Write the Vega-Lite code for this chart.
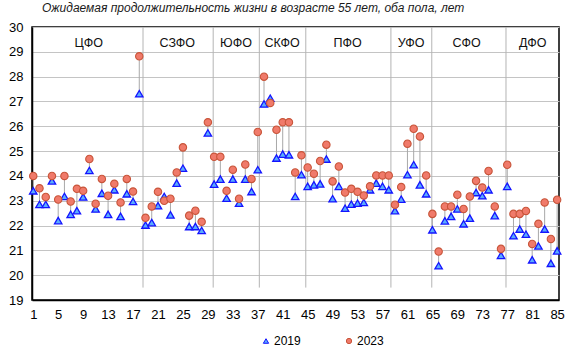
{
  "$schema": "https://vega.github.io/schema/vega-lite/v6.json",
  "width": 527,
  "height": 273,
  "autosize": {"type": "none"},
  "padding": {"left": 32, "top": 27, "right": 16, "bottom": 57},
  "background": "white",
  "title": {
    "text": "Ожидаемая продолжительность жизни в возрасте 55 лет, оба пола, лет",
    "anchor": "start",
    "frame": "group",
    "dx": 10,
    "offset": 6,
    "fontSize": 12,
    "fontStyle": "italic",
    "fontWeight": "normal",
    "font": "Liberation Sans",
    "color": "#1a1a1a"
  },
  "config": {
    "font": "Liberation Sans",
    "view": {"stroke": "#000000", "strokeWidth": 1.5},
    "axis": {"labelColor": "#000000", "labelFont": "Liberation Sans", "labelOverlap": false, "domainColor": "#000000", "domainWidth": 1.5, "gridColor": "#c4c4c4", "ticks": false, "tickCount": 100},
    "legend": {
      "orient": "none",
      "legendX": 228,
      "legendY": 308,
      "direction": "horizontal",
      "title": null,
      "symbolSize": 28,
      "symbolStrokeWidth": 1,
      "labelFontSize": 12,
      "labelColor": "#000000",
      "labelOffset": 2,
      "columnPadding": 42
    }
  },
  "datasets": {
    "regions": [
      {"i": 1, "v2019": 23.4, "v2023": 24.0},
      {"i": 2, "v2019": 22.85, "v2023": 23.5},
      {"i": 3, "v2019": 22.85, "v2023": 23.15},
      {"i": 4, "v2019": 23.8, "v2023": 24.0},
      {"i": 5, "v2019": 22.2, "v2023": 23.05},
      {"i": 6, "v2019": 23.17, "v2023": 24.0},
      {"i": 7, "v2019": 22.45, "v2023": 22.97},
      {"i": 8, "v2019": 22.6, "v2023": 23.48},
      {"i": 9, "v2019": 23.15, "v2023": 23.4},
      {"i": 10, "v2019": 24.22, "v2023": 24.68},
      {"i": 11, "v2019": 22.67, "v2023": 22.88},
      {"i": 12, "v2019": 23.3, "v2023": 23.88},
      {"i": 13, "v2019": 22.45, "v2023": 23.2},
      {"i": 14, "v2019": 23.44, "v2023": 23.68},
      {"i": 15, "v2019": 22.37, "v2023": 22.93},
      {"i": 16, "v2019": 23.28, "v2023": 23.88},
      {"i": 17, "v2019": 22.97, "v2023": 23.37},
      {"i": 18, "v2019": 27.31, "v2023": 28.82},
      {"i": 19, "v2019": 22.02, "v2023": 22.31},
      {"i": 20, "v2019": 22.12, "v2023": 22.77},
      {"i": 21, "v2019": 22.8, "v2023": 23.36},
      {"i": 22, "v2019": 23.17, "v2023": 23.0},
      {"i": 23, "v2019": 22.43, "v2023": 23.08},
      {"i": 24, "v2019": 23.71, "v2023": 24.14},
      {"i": 25, "v2019": 24.31, "v2023": 25.15},
      {"i": 26, "v2019": 21.96, "v2023": 22.4},
      {"i": 27, "v2019": 21.96, "v2023": 22.6},
      {"i": 28, "v2019": 21.8, "v2023": 22.15},
      {"i": 29, "v2019": 25.73, "v2023": 26.16},
      {"i": 30, "v2019": 23.67, "v2023": 24.77},
      {"i": 31, "v2019": 23.87, "v2023": 24.77},
      {"i": 32, "v2019": 23.1, "v2023": 23.4},
      {"i": 33, "v2019": 23.87, "v2023": 24.25},
      {"i": 34, "v2019": 22.9, "v2023": 23.08},
      {"i": 35, "v2019": 23.87, "v2023": 24.46},
      {"i": 36, "v2019": 23.37, "v2023": 23.88},
      {"i": 37, "v2019": 24.25, "v2023": 25.77},
      {"i": 38, "v2019": 26.9, "v2023": 28.0},
      {"i": 39, "v2019": 27.13, "v2023": 26.94},
      {"i": 40, "v2019": 24.72, "v2023": 25.86},
      {"i": 41, "v2019": 24.88, "v2023": 26.16},
      {"i": 42, "v2019": 24.85, "v2023": 26.16},
      {"i": 43, "v2019": 23.17, "v2023": 24.14},
      {"i": 44, "v2019": 24.05, "v2023": 24.83},
      {"i": 45, "v2019": 23.58, "v2023": 24.34},
      {"i": 46, "v2019": 23.64, "v2023": 24.09},
      {"i": 47, "v2019": 23.68, "v2023": 24.6},
      {"i": 48, "v2019": 24.68, "v2023": 25.26},
      {"i": 49, "v2019": 23.08, "v2023": 23.78},
      {"i": 50, "v2019": 23.58, "v2023": 24.38},
      {"i": 51, "v2019": 22.7, "v2023": 23.33},
      {"i": 52, "v2019": 22.86, "v2023": 23.48},
      {"i": 53, "v2019": 22.9, "v2023": 23.36},
      {"i": 54, "v2019": 22.93, "v2023": 23.21},
      {"i": 55, "v2019": 23.44, "v2023": 23.58},
      {"i": 56, "v2019": 23.71, "v2023": 24.02},
      {"i": 57, "v2019": 23.58, "v2023": 24.02},
      {"i": 58, "v2019": 23.44, "v2023": 24.02},
      {"i": 59, "v2019": 22.6, "v2023": 22.84},
      {"i": 60, "v2019": 23.06, "v2023": 23.55},
      {"i": 61, "v2019": 24.05, "v2023": 25.3},
      {"i": 62, "v2019": 24.45, "v2023": 25.9},
      {"i": 63, "v2019": 23.64, "v2023": 25.59},
      {"i": 64, "v2019": 23.28, "v2023": 24.02},
      {"i": 65, "v2019": 21.83, "v2023": 22.47},
      {"i": 66, "v2019": 20.38, "v2023": 20.95},
      {"i": 67, "v2019": 22.19, "v2023": 22.77},
      {"i": 68, "v2019": 22.37, "v2023": 22.77},
      {"i": 69, "v2019": 22.67, "v2023": 23.24},
      {"i": 70, "v2019": 22.07, "v2023": 22.67},
      {"i": 71, "v2019": 22.3, "v2023": 23.17},
      {"i": 72, "v2019": 23.33, "v2023": 23.8},
      {"i": 73, "v2019": 23.2, "v2023": 23.53},
      {"i": 74, "v2019": 23.44, "v2023": 24.2},
      {"i": 75, "v2019": 22.4, "v2023": 22.77},
      {"i": 76, "v2019": 20.8, "v2023": 21.06},
      {"i": 77, "v2019": 23.58, "v2023": 24.45},
      {"i": 78, "v2019": 21.59, "v2023": 22.47},
      {"i": 79, "v2019": 21.86, "v2023": 22.47},
      {"i": 80, "v2019": 21.65, "v2023": 22.59},
      {"i": 81, "v2019": 20.62, "v2023": 21.26},
      {"i": 82, "v2019": 21.18, "v2023": 22.07},
      {"i": 83, "v2019": 21.86, "v2023": 22.93},
      {"i": 84, "v2019": 20.48, "v2023": 21.46},
      {"i": 85, "v2019": 20.98, "v2023": 23.04}
    ],
    "seps": [
      {"s": 18.6}, {"s": 29.85}, {"s": 37.25}, {"s": 44.7}, {"s": 58.35}, {"s": 64.9}, {"s": 76.8}
    ],
    "districts": [
      {"name": "ЦФО", "x": 9.9, "y": 29.36},
      {"name": "СЗФО", "x": 24.1, "y": 29.36},
      {"name": "ЮФО", "x": 33.5, "y": 29.36},
      {"name": "СКФО", "x": 40.9, "y": 29.36},
      {"name": "ПФО", "x": 51.4, "y": 29.36},
      {"name": "УФО", "x": 61.6, "y": 29.36},
      {"name": "СФО", "x": 70.5, "y": 29.36},
      {"name": "ДФО", "x": 81.1, "y": 29.36}
    ]
  },
  "layer": [
    {
      "data": {"name": "regions"},
      "mark": {"type": "rule", "color": "#a8a8a8", "strokeWidth": 1},
      "encoding": {
        "x": {
          "field": "i", "type": "quantitative",
          "scale": {"domain": [0.8, 85.3], "nice": false, "zero": false},
          "axis": {
            "values": [1, 5, 9, 13, 17, 21, 25, 29, 33, 37, 41, 45, 49, 53, 57, 61, 65, 69, 73, 77, 81, 85],
            "format": "d", "tickCount": 100, "labelOverlap": false, "labelBound": false,
            "grid": false, "domain": true, "ticks": false,
            "labelFontSize": 13, "labelPadding": 8, "title": null, "labelFlush": false
          }
        },
        "y": {
          "field": "v2019", "type": "quantitative",
          "scale": {"domain": [19, 30], "nice": false, "zero": false},
          "axis": {
            "values": [19, 20, 21, 22, 23, 24, 25, 26, 27, 28, 29, 30],
            "format": "d", "tickCount": 100, "labelOverlap": false, "labelBound": false,
            "grid": true, "gridWidth": 1,
            "domain": true, "ticks": false,
            "labelFontSize": 13, "labelPadding": 9, "title": null
          }
        },
        "y2": {"field": "v2023"}
      }
    },
    {
      "data": {"name": "seps"},
      "mark": {"type": "rule", "color": "#b4b4b4", "strokeWidth": 1},
      "encoding": {
        "x": {"field": "s", "type": "quantitative"},
        "y": {"datum": 19.5, "type": "quantitative"},
        "y2": {"datum": 30}
      }
    },
    {
      "data": {"name": "regions"},
      "mark": {"type": "point", "filled": true, "size": 55, "strokeWidth": 1.3, "opacity": 1},
      "encoding": {
        "x": {"field": "i", "type": "quantitative"},
        "y": {"field": "v2019", "type": "quantitative"},
        "color": {"datum": "2019", "type": "nominal", "scale": {"domain": ["2019", "2023"], "range": ["#5aabff", "#f07a6a"]}},
        "shape": {"datum": "2019", "type": "nominal", "scale": {"domain": ["2019", "2023"], "range": ["triangle-up", "circle"]}},
        "stroke": {"datum": "2019", "type": "nominal", "scale": {"domain": ["2019", "2023"], "range": ["#1414ff", "#c8553a"]}}
      }
    },
    {
      "data": {"name": "regions"},
      "mark": {"type": "point", "filled": true, "size": 55, "strokeWidth": 1.1, "opacity": 1},
      "encoding": {
        "x": {"field": "i", "type": "quantitative"},
        "y": {"field": "v2023", "type": "quantitative"},
        "color": {"datum": "2023", "type": "nominal"},
        "shape": {"datum": "2023", "type": "nominal"},
        "stroke": {"datum": "2023", "type": "nominal"}
      }
    },
    {
      "data": {"name": "districts"},
      "mark": {"type": "text", "fontSize": 12.5, "color": "#111111", "baseline": "middle", "align": "center"},
      "encoding": {
        "x": {"field": "x", "type": "quantitative"},
        "y": {"field": "y", "type": "quantitative"},
        "text": {"field": "name"}
      }
    }
  ]
}
